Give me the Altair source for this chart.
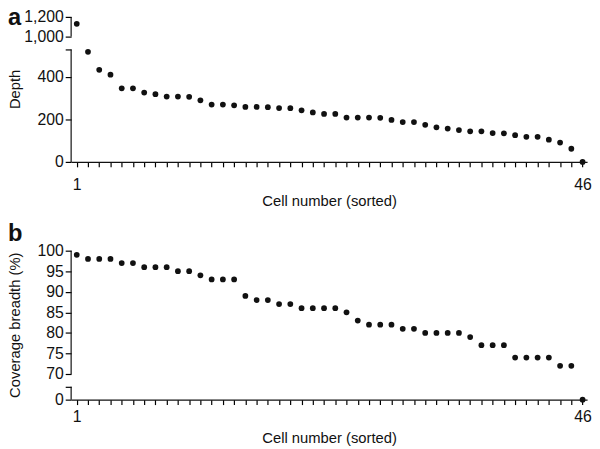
import altair as alt
import pandas as pd

FONT = "Liberation Sans"
INK = "#111111"

cells = list(range(1, 47))
depth = [1130, 519, 434, 411, 347, 347, 327, 319, 308, 308, 307, 290, 270, 270, 267,
         259, 259, 258, 254, 253, 243, 233, 226, 226, 209, 209, 209, 208, 198, 188,
         188, 175, 163, 157, 150, 144, 144, 136, 135, 126, 118, 118, 105, 91, 62, 0]
coverage = [99, 98, 98, 98, 97, 97, 96, 96, 96, 95, 95, 94, 93, 93, 93, 89, 88, 88,
            87, 87, 86, 86, 86, 86, 85, 83, 82, 82, 82, 81, 81, 80, 80, 80, 80, 79,
            77, 77, 77, 74, 74, 74, 74, 72, 72, 0]

depth_ticks = [0, 200, 400, 530, 1000, 1200]
depth_seg_lo = [0, 1000]
depth_seg_hi = [530, 1200]
cov_ticks = [0, 4, 70, 75, 80, 85, 90, 95, 100]
cov_seg_lo = [0, 70]
cov_seg_hi = [4, 100]
x_label_cells = [1, 46]
x_title = "Cell number (sorted)"

W = 523
YTICK = 6
XTICK = 5


def panel(values, ytitle, letter, domain, rng, ticks, hidden, seg_lo, seg_hi,
          height, label_pad, xtitle_y, ytitle_y, letter_y, fmt):
    df = pd.DataFrame({"cell": cells, "v": values})
    yscale = alt.Scale(domain=domain, range=rng, nice=False, zero=False)
    xscale = alt.Scale(domain=[0.5, 46.4], nice=False, zero=False)
    yaxis = alt.Axis(values=ticks, domain=False, grid=False, ticks=True,
                     tickSize=YTICK, tickColor="#000000", tickWidth=1.2, tickOpacity=1,
                     labelPadding=2, labelOverlap=False,
                     labelExpr=f"datum.value == {hidden} ? '' : format(datum.value, '{fmt}')",
                     title=ytitle, titleX=-64, titleY=ytitle_y, titleAngle=270,
                     titleBaseline="top", titleAlign="center")
    shown = " || ".join(f"datum.value == {c}" for c in x_label_cells)
    xaxis = alt.Axis(values=cells, grid=False, ticks=True, tickSize=XTICK,
                     tickColor="#000000", tickWidth=1.2, tickOpacity=1,
                     labelPadding=label_pad,
                     labelFlush=False, labelOverlap=False,
                     labelExpr=f"({shown}) ? datum.label : ''",
                     title=x_title, titleY=xtitle_y, titleBaseline="alphabetic")
    pts = alt.Chart(df).mark_circle(size=34, color=INK, opacity=1).encode(
        x=alt.X("cell:Q", scale=xscale, axis=xaxis),
        y=alt.Y("v:Q", scale=yscale, axis=yaxis),
    )
    # broken y-axis line: one segment per range piece
    seg = alt.Chart(pd.DataFrame({"lo": seg_lo, "hi": seg_hi})).mark_rule(
        color=INK, strokeWidth=1.2).encode(
        x=alt.value(0),
        y=alt.Y("lo:Q", scale=yscale, axis=yaxis),
        y2="hi:Q",
    )
    let = alt.Chart(pd.DataFrame({"t": [letter]})).mark_text(
        align="left", baseline="alphabetic", fontSize=24, fontWeight="bold",
        font=FONT, color=INK).encode(
        text="t:N", x=alt.value(-64), y=alt.value(letter_y))
    return alt.layer(seg, pts, let).properties(width=W, height=height)


pa = panel(depth, "Depth", "a", [0, 530, 1000, 1200], [147, 33, 20, 0],
           depth_ticks, 530, depth_seg_lo, depth_seg_hi, 147, 10, 44, 73, 8, ",")
pb = panel(coverage, "Coverage breadth (%)", "b", [0, 4, 70, 100], [151, 138, 125, 0],
           cov_ticks, 4, cov_seg_lo, cov_seg_hi, 151, 4, 43, 75, -10, "d")

chart = alt.vconcat(pa, pb, spacing=90, bounds="flush").properties(
    padding={"left": 0, "top": -5, "right": 0, "bottom": 0}
).configure_view(stroke=None).configure_axis(
    labelFont=FONT, titleFont=FONT, labelFontSize=16, titleFontSize=15,
    titleFontWeight="normal", labelColor=INK, titleColor=INK,
    domainColor=INK, domainWidth=1.2,
)

chart.save("out.html", embed_options={"renderer": "svg", "actions": False})
